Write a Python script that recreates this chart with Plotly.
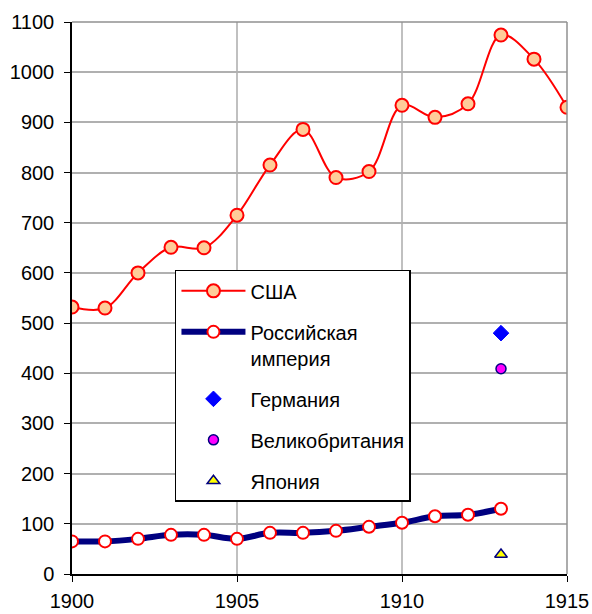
import plotly.graph_objects as go

years_usa = list(range(1900, 1916))
usa = [532, 530, 600, 651, 650, 715, 815, 886, 790, 802, 934, 910, 937, 1074, 1026, 930]
years_rus = list(range(1900, 1914))
russia = [65, 65, 70, 78, 78, 70, 82, 82, 86, 94, 102, 115, 118, 130]
year_single = [1913]
germany = [480]
britain = [409]
japan = [39]
x_ticks = [1900, 1905, 1910, 1915]
y_ticks = list(range(0, 1101, 100))

fig = go.Figure()
fig.add_trace(go.Scatter(x=years_usa, y=usa, name="США", mode="lines+markers",
                         line=dict(color="#ff0000", width=2, shape="spline", smoothing=1.0),
                         marker=dict(symbol="circle", size=13, color="#ffcc99",
                                     line=dict(color="#ff0000", width=2)),
                         legendgroup="a"))
fig.add_trace(go.Scatter(x=years_rus, y=russia, name="Российская<br>империя", mode="lines+markers",
                         line=dict(color="#000080", width=6, shape="spline", smoothing=1.0),
                         marker=dict(symbol="circle", size=12, color="#ffffff",
                                     line=dict(color="#ff0000", width=2)),
                         legendgroup="b"))
fig.add_trace(go.Scatter(x=year_single, y=germany, name="Германия", mode="markers",
                         marker=dict(symbol="diamond", size=12, color="#0000ff",
                                     line=dict(color="#0000ff", width=1)),
                         legendgroup="c"))
fig.add_trace(go.Scatter(x=year_single, y=britain, name="Великобритания", mode="markers",
                         marker=dict(symbol="circle", size=10, color="#ff00ff",
                                     line=dict(color="#000080", width=1.5)),
                         legendgroup="d"))
fig.add_trace(go.Scatter(x=year_single, y=japan, name="Япония", mode="markers",
                         marker=dict(symbol="triangle-up", size=11, color="#ffff00",
                                     line=dict(color="#000080", width=1.5)),
                         legendgroup="e"))

fig.update_layout(
    width=592, height=614,
    margin=dict(l=72, r=25, t=22, b=40),
    paper_bgcolor="white", plot_bgcolor="white",
    font=dict(family="Liberation Sans, Arial, sans-serif", size=20, color="#000000"),
    legend=dict(x=0.208, y=0.551, xanchor="left", yanchor="top", valign="top",
                bgcolor="white", bordercolor="#000000", borderwidth=1.5,
                font=dict(size=20), tracegroupgap=12, itemwidth=64),
    showlegend=True,
)
fig.update_xaxes(range=[1900, 1915], tickvals=x_ticks, ticks="outside", ticklen=6,
                 tickcolor="#000000", showline=True, linecolor="#000000", linewidth=1.5,
                 ticklabelstandoff=2, automargin=False,
                 showgrid=True, gridcolor="#c0c0c0", gridwidth=1.5, zeroline=False)
fig.update_yaxes(range=[0, 1100], tickvals=y_ticks, ticks="outside", ticklen=6,
                 tickcolor="#000000", showline=True, linecolor="#000000", linewidth=1.5,
                 ticklabelstandoff=6, automargin=False,
                 showgrid=True, gridcolor="#b0b0b0", gridwidth=1.5, zeroline=False)
fig.add_shape(type="line", xref="paper", yref="paper", x0=1, x1=1, y0=0, y1=1,
              line=dict(color="#909090", width=1.5))
fig.add_shape(type="line", xref="paper", yref="paper", x0=0, x1=1, y0=1, y1=1,
              line=dict(color="#909090", width=1.5))

fig.write_html("out.html")
